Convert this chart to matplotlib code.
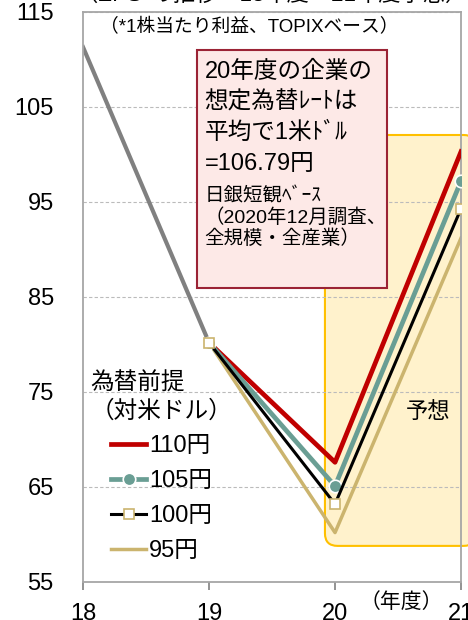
import matplotlib
matplotlib.use('Agg')
import matplotlib.pyplot as plt
from matplotlib.patches import FancyBboxPatch, Rectangle

plt.rcParams['font.family'] = ['Liberation Sans', 'Noto Sans CJK JP', 'DejaVu Sans']

# actual EPS (18 -> 19)
years_actual = [18, 19]
eps_actual = [111.3, 80.2]

# forecasts by assumed USD/JPY rate
years_fc = [19, 20, 21]
eps_110 = [80.2, 67.6, 100.3]
eps_105 = [80.2, 65.1, 97.2]
eps_100 = [80.2, 63.2, 94.3]
eps_95 = [80.2, 60.2, 91.2]

series_labels = ['110円', '105円', '100円', '95円']
yticks = [55, 65, 75, 85, 95, 105, 115]
xticks = [18, 19, 20, 21]

red = '#C00000'
teal = '#6A9E94'
tan = '#CBB46E'
gray = '#808080'

fig = plt.figure(figsize=(4.68, 6.2), dpi=100)
ax = fig.add_axes([0.1774, 0.0613, 0.8077, 0.9194])

# forecast shaded area
fc = FancyBboxPatch((19.92, 58.8), 1.2, 43.25,
                    boxstyle='round,pad=0,rounding_size=0.1',
                    mutation_aspect=126 / 9.5,
                    facecolor='#FFF2CC', edgecolor='#FFC000', lw=1.5,
                    zorder=0, clip_on=False)
ax.add_patch(fc)

ax.plot(years_actual, eps_actual, color=gray, lw=3.0, zorder=2)
ax.plot(years_fc, eps_110, color=red, lw=3.4, label=series_labels[0], zorder=3)
ax.plot(years_fc, eps_105, color=teal, lw=3.4, marker='o', ms=9,
        mfc=teal, mec='white', mew=1.2, label=series_labels[1], zorder=3)
ax.plot(years_fc, eps_100, color='black', lw=2.2, marker='s', ms=6.5,
        mfc='white', mec=tan, mew=1.2, label=series_labels[2], zorder=3)
ax.plot(years_fc, eps_95, color=tan, lw=2.5, label=series_labels[3], zorder=2.5)

ax.set_xlim(18, 21)
ax.set_ylim(55, 115)
ax.set_yticks(yticks)
ax.set_xticks(xticks)
ax.set_xticklabels([str(x) for x in xticks], fontsize=17)
ax.set_yticklabels([str(y) for y in yticks], fontsize=17)
ax.tick_params(axis='y', length=0, pad=21)
ax.tick_params(axis='x', length=6, color=gray, width=1.2, pad=9)
ax.yaxis.grid(True, ls=(0, (3, 2)), color='#BBBBBB', lw=0.8)
ax.set_axisbelow(True)
for s in ax.spines.values():
    s.set_color('#A6A6A6')
    s.set_linewidth(1.3)

# cut-off title at the top
fig.text(0.58, 0.999, '（EPS*の推移：18年度～21年度予想）', fontsize=16,
         ha='center', va='baseline')

ax.text(0.045, 0.974, '（*1株当たり利益、TOPIXベース）', transform=ax.transAxes,
        fontsize=13.5, va='center', ha='left')

# note box
ax.add_patch(Rectangle((0.3016, 0.516), 0.5024, 0.417, transform=ax.transAxes,
                       facecolor='#FDE9E7', edgecolor='#9B2335', lw=1.5, zorder=4))
ax.text(0.322, 0.915, '20年度の企業の\n想定為替ﾚｰﾄは\n平均で1米ﾄﾞﾙ\n=106.79円',
        transform=ax.transAxes, fontsize=17, va='top', ha='left',
        linespacing=1.5, zorder=5)
ax.text(0.322, 0.693, '日銀短観ﾍﾞｰｽ\n（2020年12月調査、\n全規模・全産業）',
        transform=ax.transAxes, fontsize=14, va='top', ha='left',
        linespacing=1.2, zorder=5)

ax.text(20.74, 72.8, '予想', fontsize=16, ha='center', va='center')
ax.text(0.841, -0.035, '（年度）', transform=ax.transAxes, fontsize=15,
        ha='center', va='center', clip_on=False)

leg = ax.legend(title='為替前提\n（対米ドル）', loc='upper left',
                bbox_to_anchor=(-0.005, 0.384), frameon=False, fontsize=17,
                title_fontsize=17, handlelength=1.5, handletextpad=0.12,
                labelspacing=0.55, borderaxespad=0)
leg.get_title().set_linespacing(1.3)
leg._legend_box.align = 'center'
leg._legend_box.sep = 9

fig.savefig('out.png', dpi=100)
